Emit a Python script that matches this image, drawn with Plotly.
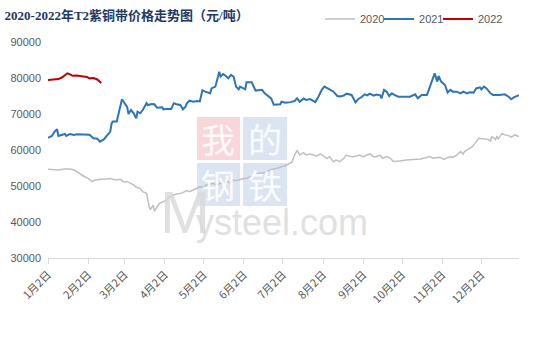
import plotly.graph_objects as go

# ---------------- data ----------------
title_text = "2020-2022年T2紫铜带价格走势图（元/吨）"
series_names = ["2020", "2021", "2022"]
tick_dates = ["01-02", "02-02", "03-02", "04-02", "05-02", "06-02",
              "07-02", "08-02", "09-02", "10-02", "11-02", "12-02"]
tick_labels = ["1月2日", "2月2日", "3月2日", "4月2日", "5月2日", "6月2日",
               "7月2日", "8月2日", "9月2日", "10月2日", "11月2日", "12月2日"]

dates_2020 = ["01-02", "01-06", "01-10", "01-14", "01-19", "01-22", "01-25", "01-29",
              "02-02", "02-05", "02-07", "02-10", "02-12", "02-16", "02-19", "02-21",
              "02-24", "02-27", "03-01", "03-04", "03-06", "03-09", "03-11", "03-14",
              "03-16", "03-19", "03-20", "03-21", "03-22", "03-24", "03-25", "03-27",
              "03-29", "04-01", "04-03", "04-06", "04-09", "04-11", "04-14", "04-16",
              "04-19", "04-21", "04-24", "04-27", "04-29", "05-02", "05-04", "05-07",
              "05-09", "05-12", "05-15", "05-17", "05-20", "05-22", "05-25", "05-27",
              "05-30", "06-02", "06-04", "06-07", "06-09", "06-12", "06-14", "06-17",
              "06-20", "06-22", "06-25", "06-27", "06-30", "07-02", "07-05", "07-09",
              "07-10", "07-11", "07-13", "07-15", "07-18", "07-20", "07-23", "07-25",
              "07-28", "07-31", "08-02", "08-05", "08-07", "08-10", "08-12", "08-15",
              "08-18", "08-20", "08-23", "08-25", "08-28", "08-30", "09-02", "09-05",
              "09-07", "09-10", "09-12", "09-15", "09-17", "09-20", "09-23", "09-25",
              "09-28", "09-30", "10-05", "10-11", "10-16", "10-21", "10-23", "10-26",
              "10-29", "10-31", "11-03", "11-05", "11-08", "11-10", "11-13", "11-16",
              "11-18", "11-19", "11-22", "11-25", "11-27", "11-28", "11-30", "12-03",
              "12-05", "12-07", "12-09", "12-10", "12-13", "12-14", "12-15", "12-16",
              "12-18", "12-20", "12-23", "12-25", "12-28", "12-31"]
prices_2020 = [54640, 54640, 54450, 54700, 54700, 54450, 53700, 52850,
               52100, 51200, 51650, 51650, 51850, 51950, 52100, 51850,
               51650, 51850, 51200, 51200, 50900, 50300, 49650, 49350,
               48400, 47950, 46100, 44100, 43500, 44700, 43050, 44250,
               45200, 45650, 46100, 47050, 47500, 47800, 47950, 48150,
               48700, 48400, 48900, 49350, 49800, 49650, 50300, 50500,
               50750, 50300, 50750, 50750, 51200, 50900, 51650, 51450,
               51850, 52100, 52100, 52600, 52800, 53350, 53550, 53700,
               53950, 54450, 54650, 54900, 55200, 55450, 55850, 56600,
               57700, 58600, 59900, 58600, 59250, 58600, 58900, 58600,
               58350, 58900, 58350, 57700, 58150, 56750, 57200, 56750,
               57700, 58600, 58200, 58150, 58350, 58600, 58150, 58600,
               58900, 58150, 58150, 58600, 57700, 58150, 57700, 56800,
               56850, 56950, 57200, 57400, 57500, 57900, 58150, 57700,
               57850, 58000, 57400, 57700, 58150, 57950, 58600, 59550,
               58900, 59550, 60200, 60900, 61850, 62300, 63250, 63150,
               63050, 62950, 62500, 63700, 62950, 63900, 63100, 63700,
               64550, 64200, 64000, 63550, 64200, 63700]

dates_2021 = ["01-02", "01-05", "01-07", "01-09", "01-10", "01-13", "01-15", "01-16",
              "01-19", "01-22", "01-24", "02-03", "02-06", "02-09", "02-11", "02-14",
              "02-16", "02-19", "02-20", "02-21", "02-24", "02-26", "02-27", "02-28",
              "03-02", "03-04", "03-05", "03-07", "03-09", "03-11", "03-12", "03-14",
              "03-16", "03-19", "03-20", "03-23", "03-25", "03-27", "03-31", "04-01",
              "04-03", "04-07", "04-09", "04-11", "04-14", "04-16", "04-18", "04-19",
              "04-21", "04-24", "04-27", "04-29", "05-01", "05-03", "05-07", "05-08",
              "05-11", "05-12", "05-14", "05-15", "05-17", "05-19", "05-21", "05-23",
              "05-25", "05-27", "05-29", "05-30", "06-02", "06-03", "06-04", "06-08",
              "06-11", "06-13", "06-16", "06-18", "06-21", "06-23", "06-25", "06-30",
              "07-01", "07-04", "07-08", "07-11", "07-13", "07-15", "07-18", "07-20",
              "07-23", "07-27", "07-29", "08-01", "08-03", "08-05", "08-07", "08-10",
              "08-13", "08-15", "08-18", "08-20", "08-24", "08-27", "08-29", "09-01",
              "09-03", "09-05", "09-07", "09-10", "09-12", "09-15", "09-16", "09-18",
              "09-20", "09-22", "09-24", "09-26", "09-29", "10-06", "10-08", "10-12",
              "10-14", "10-17", "10-21", "10-22", "10-25", "10-27", "10-29", "10-30",
              "11-01", "11-04", "11-06", "11-08", "11-10", "11-13", "11-16", "11-18",
              "11-21", "11-23", "11-26", "11-28", "12-01", "12-02", "12-04", "12-06",
              "12-09", "12-11", "12-16", "12-20", "12-23", "12-25", "12-27", "12-29",
              "12-31"]
prices_2021 = [63400, 63900, 65100, 65750, 63900, 64200, 64450, 63900,
               64450, 64200, 64350, 64250, 63250, 63150, 62300, 62950,
               63700, 65100, 67400, 67900, 67900, 71100, 72000, 74100,
               73000, 72000, 70000, 71100, 70200, 68800, 70650, 70200,
               71100, 73000, 72500, 72800, 72700, 71750, 71850, 71300,
               71400, 71400, 73000, 72700, 72500, 71300, 72000, 73000,
               73700, 73400, 73600, 73500, 76600, 76200, 75750, 77100,
               77600, 79000, 81750, 80400, 81100, 80550, 79900, 80850,
               80400, 77600, 76850, 77600, 77100, 76850, 78800, 78800,
               76500, 76500, 76700, 75750, 74800, 74350, 72600, 72700,
               73400, 73150, 73300, 73600, 74350, 73400, 74300, 73900,
               74150, 73300, 74500, 76700, 77600, 77100, 76850, 76200,
               75000, 74900, 75150, 75650, 75300, 73200, 74100, 74800,
               75450, 75200, 75650, 75100, 75400, 75200, 74350, 76700,
               76200, 75000, 75750, 75300, 74800, 74800, 74800, 75450,
               74350, 75300, 75300, 76200, 79000, 81300, 79000, 80550,
               79000, 78050, 75950, 76700, 76200, 76200, 75750, 76200,
               75750, 76050, 75950, 77100, 77400, 76850, 77600, 77100,
               75750, 75300, 75300, 75450, 74800, 74100, 74600, 75000,
               75200]

dates_2022 = ["01-02", "01-06", "01-10", "01-13", "01-17", "01-19", "01-21", "01-24",
              "01-28", "02-01", "02-03", "02-06", "02-09", "02-10", "02-12"]
prices_2022 = [79450, 79600, 79700, 80200, 81300, 81000, 80600, 80700,
               80550, 80300, 79900, 80000, 79600, 79250, 78600]

colors = {"2020": "#bfbfbf", "2021": "#2e75b6", "2022": "#c00000"}
widths = {"2020": 1.5, "2021": 2.0, "2022": 2.0}
legend_ids = {"2020": "legend", "2021": "legend2", "2022": "legend3"}
legend_x = {"legend": 0.5775, "legend2": 0.7028, "legend3": 0.828}

# ---------------- figure ----------------
fig = go.Figure()
for name, ds, vs in [("2020", dates_2020, prices_2020),
                     ("2021", dates_2021, prices_2021),
                     ("2022", dates_2022, prices_2022)]:
    fig.add_trace(go.Scatter(
        x=["2021-" + d for d in ds], y=vs, name=name, mode="lines",
        line=dict(color=colors[name], width=widths[name]),
        legend=legend_ids[name],
    ))

# watermark (paper coordinates of plot area)
sq_pink = "#f9d6da"
sq_blue = "#dbe5f1"
squares = [(0.3163, 0.4076, 0.4537, 0.6528, sq_pink, "我"),
           (0.414, 0.5074, 0.4537, 0.6528, sq_blue, "的"),
           (0.3163, 0.4076, 0.2407, 0.4398, sq_blue, "钢"),
           (0.414, 0.5074, 0.2407, 0.4398, sq_blue, "铁")]
for x0, x1, y0, y1, c, ch in squares:
    fig.add_shape(type="rect", xref="paper", yref="paper", x0=x0, x1=x1, y0=y0, y1=y1,
                  fillcolor=c, line=dict(width=0), layer="below")
    fig.add_annotation(xref="paper", yref="paper", x=(x0 + x1) / 2, y=(y0 + y1) / 2,
                       text=ch, showarrow=False, xanchor="center", yanchor="middle",
                       font=dict(family="Noto Sans CJK SC", size=34, color="white"),
                       opacity=0.9)
fig.add_annotation(xref="paper", yref="paper", x=0.234, y=0.212, text="M",
                   showarrow=False, xanchor="left", yanchor="middle",
                   font=dict(family="Liberation Sans", size=60, color="#d9d9d9"), opacity=0.8)
fig.add_annotation(xref="paper", yref="paper", x=0.31, y=0.163, text="ysteel.com",
                   showarrow=False, xanchor="left", yanchor="middle",
                   font=dict(family="Liberation Sans", size=36, color="#d9d9d9"), opacity=0.8)

legend_style = dict(orientation="h", xanchor="left", y=1.106, yanchor="middle",
                    font=dict(family="Liberation Sans", size=11, color="#595959"),
                    itemwidth=30, bgcolor="rgba(0,0,0,0)")

fig.update_layout(
    width=534, height=362,
    margin=dict(l=48, r=15, t=42, b=104, autoexpand=False),
    paper_bgcolor="white", plot_bgcolor="white",
    title=dict(text="<b>" + title_text + "</b>", x=0.0086, xanchor="left",
               y=0.9565, yanchor="middle",
               font=dict(family="Liberation Serif, Noto Sans CJK SC", size=13, color="#1f3864")),
    legend=dict(x=legend_x["legend"], **legend_style),
    legend2=dict(x=legend_x["legend2"], **legend_style),
    legend3=dict(x=legend_x["legend3"], **legend_style),
    showlegend=True,
    xaxis=dict(type="date", range=["2021-01-02", "2021-12-31"],
               tickvals=["2021-" + d for d in tick_dates], ticktext=tick_labels,
               tickangle=-45, ticks="outside", ticklen=5, tickcolor="#d9d9d9",
               showline=True, linecolor="#d9d9d9", linewidth=1,
               showgrid=False, zeroline=False, automargin=False,
               tickfont=dict(family="Noto Sans CJK SC", size=11, color="#595959")),
    yaxis=dict(range=[30000, 90000], dtick=10000, tickformat="d",
               showgrid=False, zeroline=False, showline=False, automargin=False,
               ticklabelstandoff=6,
               tickfont=dict(family="Liberation Sans", size=11, color="#595959")),
)

fig.write_html("out.html", config={"displayModeBar": False},
               post_script="document.body.style.margin='0';")
